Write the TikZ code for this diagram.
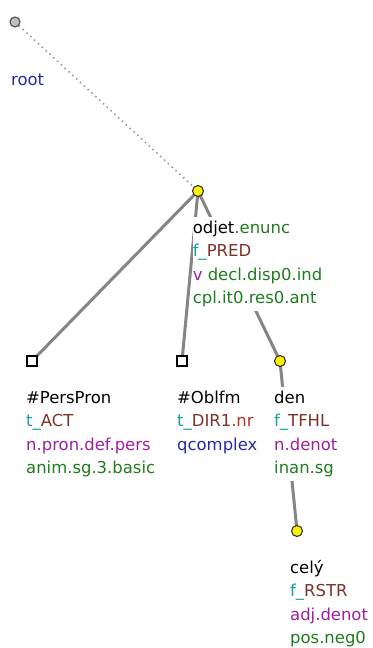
\documentclass[tikz,border=0pt]{standalone}
\usepackage{fontspec}
\setmainfont{DejaVu Sans}
\usetikzlibrary{backgrounds}
\definecolor{cgreen}{RGB}{30,125,30}
\definecolor{cteal}{RGB}{20,160,160}
\definecolor{cbrown}{RGB}{125,50,40}
\definecolor{cred}{RGB}{180,50,30}
\definecolor{cpurple}{RGB}{160,30,160}
\definecolor{cblue}{RGB}{40,40,170}
\begin{document}
\begin{tikzpicture}[x=1bp,y=-1bp,
  tnode/.style={circle,draw=black!80,line width=1.1bp,fill=yellow,minimum size=11bp,inner sep=0},
  rnode/.style={circle,draw=black!70,line width=1.1bp,fill=black!25,minimum size=10bp,inner sep=0},
  snode/.style={rectangle,draw=black,line width=1.2bp,fill=white,minimum size=10bp,inner sep=0},
  lbl/.style={anchor=base west,inner xsep=0bp,inner ysep=0.4bp,text height=16bp,text depth=7bp,fill=white,font=\fontsize{16.5}{20}\selectfont},
  tedge/.style={draw=black!48,line width=3bp},
  rootedge/.style={draw=black!38,line width=1.6bp,dash pattern=on 1.6bp off 3.6bp}]
\useasboundingbox (0,0) rectangle (372,648);
% tree nodes
\node[rnode] (root) at (15,22) {};
\node[tnode] (odjet) at (198,191) {};
\node[snode] (pers) at (32,361) {};
\node[snode] (obl) at (182,361) {};
\node[tnode] (den) at (280,361) {};
\node[tnode] (cely) at (297,531) {};
% edges
\begin{scope}[on background layer]
\draw[rootedge] (root.center) -- (odjet.center);
\draw[tedge] (odjet.center) -- (pers.center);
\draw[tedge] (odjet.center) -- (obl.center);
\draw[tedge] (odjet.center) -- (den.center);
\draw[tedge] (den.center) -- (cely.center);
\end{scope}
% labels
\node[lbl] (r1) at (11,86) {\textcolor{cblue}{root}};

\node[lbl] (o1) at (192.6,233) {odjet\textcolor{cgreen}{.enunc}};
\node[lbl] (o2) at (192.6,256.5) {\textcolor{cteal}{f\_}\textcolor{cbrown}{PRED}};
\node[lbl] (o3) at (192.6,280) {\textcolor{cpurple}{v} \textcolor{cgreen}{decl.disp0.ind}};
\node[lbl] (o4) at (192.6,303.5) {\textcolor{cgreen}{cpl.it0.res0.ant}};

\node[lbl] (p1) at (26,403) {\#PersPron};
\node[lbl] (p2) at (26,426.5) {\textcolor{cteal}{t\_}\textcolor{cbrown}{ACT}};
\node[lbl] (p3) at (26,450) {\textcolor{cpurple}{n.pron.def.pers}};
\node[lbl] (p4) at (26,473.5) {\textcolor{cgreen}{anim.sg.3.basic}};

\node[lbl] (b1) at (177,403) {\#Oblfm};
\node[lbl] (b2) at (177,426.5) {\textcolor{cteal}{t\_}\textcolor{cbrown}{DIR1}\textcolor{cred}{.nr}};
\node[lbl] (b3) at (177,450) {\textcolor{cblue}{qcomplex}};

\node[lbl] (d1) at (274,403) {den};
\node[lbl] (d2) at (274,426.5) {\textcolor{cteal}{f\_}\textcolor{cbrown}{TFHL}};
\node[lbl] (d3) at (274,450) {\textcolor{cpurple}{n.denot}};
\node[lbl] (d4) at (274,473.5) {\textcolor{cgreen}{inan.sg}};

\node[lbl] (c1) at (290,573) {celý};
\node[lbl] (c2) at (290,596.5) {\textcolor{cteal}{f\_}\textcolor{cbrown}{RSTR}};
\node[lbl] (c3) at (290,620) {\textcolor{cpurple}{adj.denot}};
\node[lbl] (c4) at (290,643) {\textcolor{cgreen}{pos.neg0}};
\end{tikzpicture}
\end{document}
